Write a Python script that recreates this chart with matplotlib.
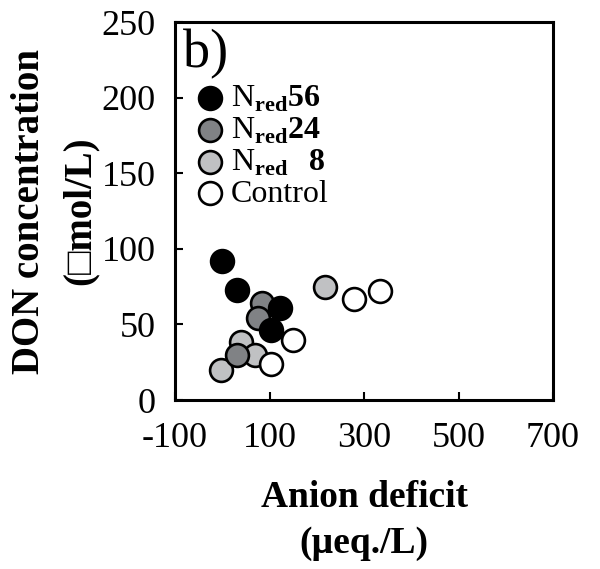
import matplotlib
matplotlib.use("Agg")
import matplotlib.pyplot as plt

plt.rcParams["font.family"] = ["Liberation Serif", "DejaVu Serif"]
plt.rcParams["mathtext.fontset"] = "custom"
plt.rcParams["mathtext.rm"] = "Liberation Serif"
plt.rcParams["mathtext.bf"] = "Liberation Serif:bold"
plt.rcParams["axes.unicode_minus"] = False

# anion deficit (ueq/L) vs DON (umol/L)
nred56_x = [0, 32, 122, 104]
nred56_y = [92, 73, 61, 46]
nred24_x = [84, 76, 32]
nred24_y = [64, 54, 30]
nred8_x = [39, 69, 217, -3]
nred8_y = [38.6, 30, 74.5, 20]
control_x = [150, 104, 278, 334]
control_y = [40, 24, 67, 72]

xticks = [-100, 100, 300, 500, 700]
yticks = [0, 50, 100, 150, 200, 250]

fig = plt.figure(figsize=(6, 5.69), dpi=100)
ax = fig.add_axes([0.2917, 0.297, 0.63, 0.6643])

kw = dict(s=270, edgecolors="black", linewidths=1.9, zorder=3)
h8 = ax.scatter(nred8_x, nred8_y, c="#c0c1c3", label=r"N$_{\mathbf{red}}\ \ \mathbf{8}$", **kw)
h24 = ax.scatter(nred24_x, nred24_y, c="#808285", label=r"N$_{\mathbf{red}}\mathbf{24}$", **kw)
h56 = ax.scatter(nred56_x, nred56_y, c="black", label=r"N$_{\mathbf{red}}\mathbf{56}$", **kw)
hc = ax.scatter(control_x, control_y, c="white", label="Control", **kw)

ax.set_xlim(-100, 700)
ax.set_ylim(0, 250)
ax.set_xticks(xticks)
ax.set_yticks(yticks)
ax.tick_params(direction="in", length=6, width=1.5, labelsize=26)
ax.tick_params(axis="x", pad=16)
ax.tick_params(axis="y", pad=14)
for sp in ax.spines.values():
    sp.set_linewidth(2.2)

ax.set_xlabel("Anion deficit\n(\u00b5eq./L)", fontsize=27, fontweight="bold",
              linespacing=1.4, labelpad=18)
ax.set_ylabel("DON concentration\n(\u25a1mol/L)", fontsize=28, fontweight="bold",
              linespacing=1.5, labelpad=2)

ax.text(0.02, 0.881, "b)", transform=ax.transAxes, fontsize=39, va="baseline")

ax.legend(handles=[h56, h24, h8, hc], loc="upper left", bbox_to_anchor=(0.0, 0.88),
          frameon=False, fontsize=23, handletextpad=0.05, labelspacing=0.05,
          borderaxespad=0.3, handlelength=1.2, borderpad=0.2)

fig.savefig("out.png", dpi=100)
